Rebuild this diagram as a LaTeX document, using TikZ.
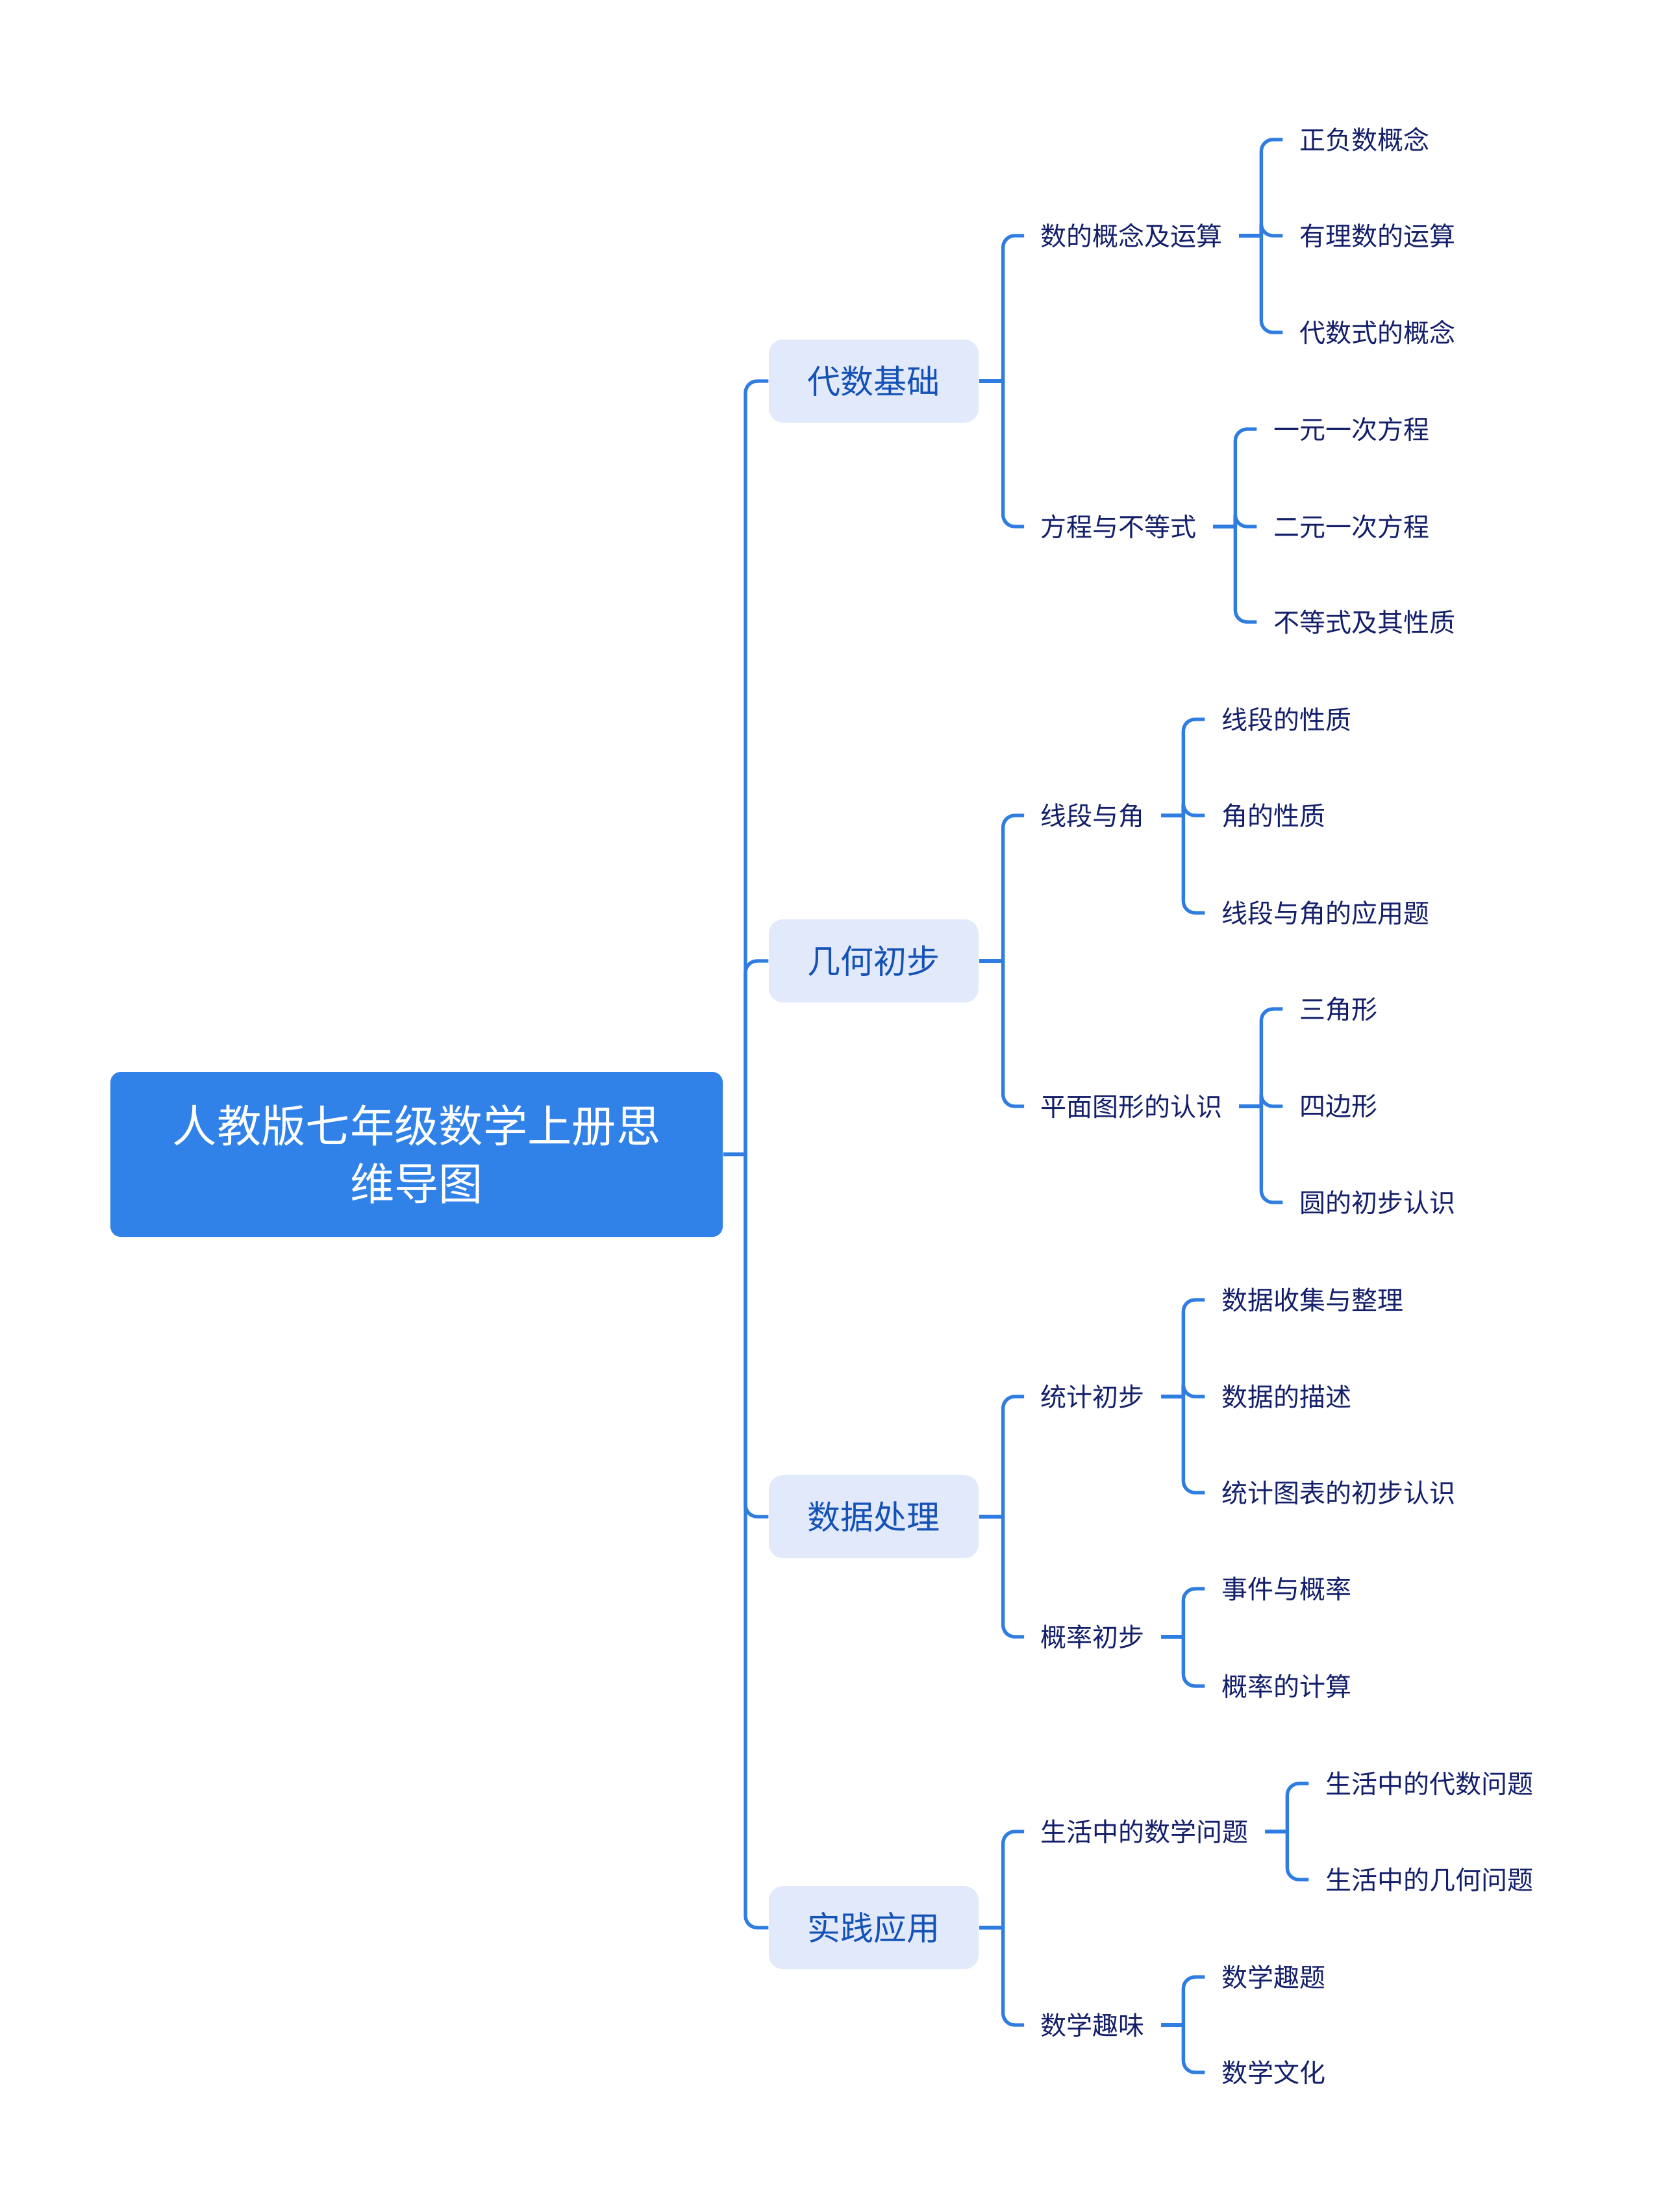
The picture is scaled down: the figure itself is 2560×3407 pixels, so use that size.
\documentclass[tikz,border=0pt]{standalone}
\usepackage{fontspec}
\setmainfont{Noto Sans CJK SC}
\usetikzlibrary{calc}
\definecolor{rootblue}{HTML}{3081E8}
\definecolor{lineblue}{HTML}{2F7DE1}
\definecolor{topicbg}{HTML}{E1E9FB}
\definecolor{topictext}{HTML}{1552B6}
\definecolor{leaftext}{HTML}{141F6A}
\tikzset{
  conn/.style={draw=lineblue, line width=1.6pt, rounded corners=5.4pt},
  rootbox/.style={fill=rootblue, rounded corners=4.8pt, text=white,
    font=\fontsize{20.5pt}{26.7pt}\selectfont, align=center,
    minimum width=282.9pt, minimum height=76.2pt, inner sep=0pt},
  topic/.style={fill=topicbg, rounded corners=6.6pt, text=topictext,
    font=\fontsize{15.3pt}{18pt}\selectfont,
    minimum width=96.9pt, minimum height=38.4pt, inner sep=0pt},
  leaf/.style={text=leaftext, font=\fontsize{12pt}{14pt}\selectfont,
    anchor=west, inner xsep=7.5pt, inner ysep=0pt},
}
\begin{document}
\begin{tikzpicture}[x=0.3pt,y=-0.3pt]
\useasboundingbox (0,0) rectangle (2560,3407);
% root
\node[rootbox] (root) at (641.5,1778) {人教版七年级数学上册思\\维导图};
% topics
\node[topic] (t1) at (1345.5,587) {代数基础};
\node[topic] (t2) at (1345.5,1480) {几何初步};
\node[topic] (t3) at (1345.5,2336) {数据处理};
\node[topic] (t4) at (1345.5,2969) {实践应用};
\coordinate (j0) at (1148,1778);
\draw[conn] (root.east) -- (j0);
\foreach \t in {t1,t2,t3,t4} \draw[conn] (j0) |- (\t.west);
% level 2
\node[leaf] (a1) at (1577,363) {数的概念及运算};
\node[leaf] (a2) at (1577,811) {方程与不等式};
\node[leaf] (b1) at (1577,1256) {线段与角};
\node[leaf] (b2) at (1577,1704) {平面图形的认识};
\node[leaf] (c1) at (1577,2151) {统计初步};
\node[leaf] (c2) at (1577,2521) {概率初步};
\node[leaf] (d1) at (1577,2821) {生活中的数学问题};
\node[leaf] (d2) at (1577,3119) {数学趣味};
\coordinate (jt1) at ($(t1.east)+(37,0)$);
\coordinate (jt2) at ($(t2.east)+(37,0)$);
\coordinate (jt3) at ($(t3.east)+(37,0)$);
\coordinate (jt4) at ($(t4.east)+(37,0)$);
\draw[conn] (t1.east) -- (jt1);
\draw[conn] (t2.east) -- (jt2);
\draw[conn] (t3.east) -- (jt3);
\draw[conn] (t4.east) -- (jt4);
\draw[conn] (jt1) |- (a1.west); \draw[conn] (jt1) |- (a2.west);
\draw[conn] (jt2) |- (b1.west); \draw[conn] (jt2) |- (b2.west);
\draw[conn] (jt3) |- (c1.west); \draw[conn] (jt3) |- (c2.west);
\draw[conn] (jt4) |- (d1.west); \draw[conn] (jt4) |- (d2.west);
% junctions of level 2
\foreach \p in {a1,a2,b1,b2,c1,c2,d1,d2}{
  \coordinate (j\p) at ($(\p.east)+(34,0)$);
  \draw[conn] (\p.east) -- (j\p);
}
% level 3
\node[leaf] (a11) at ($(ja1 |- 0,215)+(33,0)$) {正负数概念};
\node[leaf] (a12) at ($(ja1 |- 0,363)+(33,0)$) {有理数的运算};
\node[leaf] (a13) at ($(ja1 |- 0,512)+(33,0)$) {代数式的概念};
\node[leaf] (a21) at ($(ja2 |- 0,661)+(33,0)$) {一元一次方程};
\node[leaf] (a22) at ($(ja2 |- 0,811)+(33,0)$) {二元一次方程};
\node[leaf] (a23) at ($(ja2 |- 0,958)+(33,0)$) {不等式及其性质};
\node[leaf] (b11) at ($(jb1 |- 0,1108)+(33,0)$) {线段的性质};
\node[leaf] (b12) at ($(jb1 |- 0,1256)+(33,0)$) {角的性质};
\node[leaf] (b13) at ($(jb1 |- 0,1406)+(33,0)$) {线段与角的应用题};
\node[leaf] (b21) at ($(jb2 |- 0,1554)+(33,0)$) {三角形};
\node[leaf] (b22) at ($(jb2 |- 0,1704)+(33,0)$) {四边形};
\node[leaf] (b23) at ($(jb2 |- 0,1852)+(33,0)$) {圆的初步认识};
\node[leaf] (c11) at ($(jc1 |- 0,2002)+(33,0)$) {数据收集与整理};
\node[leaf] (c12) at ($(jc1 |- 0,2151)+(33,0)$) {数据的描述};
\node[leaf] (c13) at ($(jc1 |- 0,2299)+(33,0)$) {统计图表的初步认识};
\node[leaf] (c21) at ($(jc2 |- 0,2447)+(33,0)$) {事件与概率};
\node[leaf] (c22) at ($(jc2 |- 0,2597)+(33,0)$) {概率的计算};
\node[leaf] (d11) at ($(jd1 |- 0,2747)+(33,0)$) {生活中的代数问题};
\node[leaf] (d12) at ($(jd1 |- 0,2895)+(33,0)$) {生活中的几何问题};
\node[leaf] (d21) at ($(jd2 |- 0,3045)+(33,0)$) {数学趣题};
\node[leaf] (d22) at ($(jd2 |- 0,3192)+(33,0)$) {数学文化};
\foreach \p/\c in {a1/a11,a1/a12,a1/a13,a2/a21,a2/a22,a2/a23,
  b1/b11,b1/b12,b1/b13,b2/b21,b2/b22,b2/b23,
  c1/c11,c1/c12,c1/c13,c2/c21,c2/c22,
  d1/d11,d1/d12,d2/d21,d2/d22}
  \draw[conn] (j\p) |- (\c.west);
\end{tikzpicture}
\end{document}
